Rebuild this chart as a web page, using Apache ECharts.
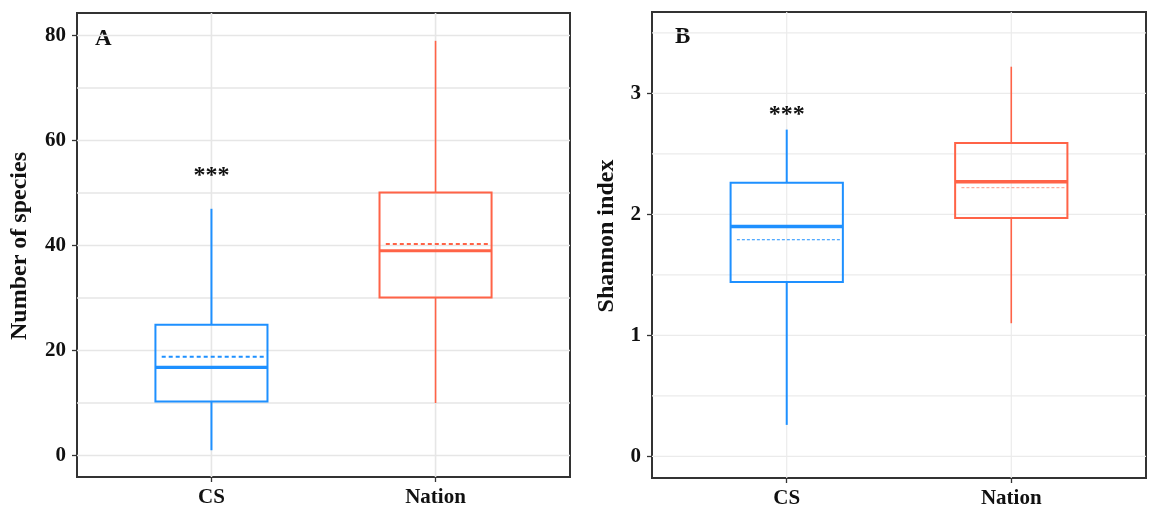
<!DOCTYPE html>
<html>
<head>
<meta charset="utf-8">
<script src="https://cdn.jsdelivr.net/npm/echarts@6/dist/echarts.min.js"></script>
<style>
html,body{margin:0;padding:0;background:#fff;}
#chart{width:1151px;height:508px;}
</style>
</head>
<body>
<div id="chart"></div>
<script>
// ---------- data ----------
const categories = ['CS', 'Nation'];
const boxColors = ['#1E90FF', '#FF6347'];

// Panel A: Number of species
const speciesLow    = [1.0, 10.0];
const speciesQ1     = [10.3, 30.1];
const speciesMedian = [16.8, 39.0];
const speciesQ3     = [24.9, 50.1];
const speciesHigh   = [47.0, 79.0];
const speciesMean   = [18.8, 40.3];
const speciesTicks  = [0, 20, 40, 60, 80];
const speciesMinor  = [10, 30, 50, 70];
const speciesSig    = ['***', ''];
const speciesSigY   = [53.3, null];

// Panel B: Shannon index
const shannonLow    = [0.26, 1.10];
const shannonQ1     = [1.44, 1.97];
const shannonMedian = [1.90, 2.27];
const shannonQ3     = [2.26, 2.59];
const shannonHigh   = [2.70, 3.22];
const shannonMean   = [1.79, 2.22];
const shannonTicks  = [0, 1, 2, 3];
const shannonMinor  = [0.5, 1.5, 2.5, 3.5];
const shannonSig    = ['***', ''];
const shannonSigY   = [2.82, null];

const catPos = categories.map((c, i) => i + 1);

// ---------- helpers ----------
const FONT = '"Liberation Serif", "Times New Roman", serif';
const X_MIN = 0.4, X_MAX = 2.6;

function buildBoxData(low, q1, med, q3, high, mean) {
  return categories.map((c, i) => [catPos[i], low[i], q1[i], med[i], q3[i], high[i], mean[i]]);
}

function boxRenderer(st) {
  return function (params, api) {
    const i = params.dataIndex;
    const x = api.value(0);
    const lo = api.value(1), q1 = api.value(2), med = api.value(3),
          q3 = api.value(4), hi = api.value(5), mean = api.value(6);
    const col = boxColors[i];
    const half = 0.25;
    const tl = api.coord([x - half, q3]);
    const br = api.coord([x + half, q1]);
    const cHi = api.coord([x, hi]), cQ3 = api.coord([x, q3]);
    const cQ1 = api.coord([x, q1]), cLo = api.coord([x, lo]);
    const mL = api.coord([x - half, med]), mR = api.coord([x + half, med]);
    const aL = api.coord([x - half + 0.028, mean]), aR = api.coord([x + half - 0.01, mean]);
    const wW = st.whiskerWidth[i];
    return {
      type: 'group',
      children: [
        {type: 'line', shape: {x1: cHi[0], y1: cHi[1], x2: cQ3[0], y2: cQ3[1]},
         style: {stroke: col, lineWidth: wW}},
        {type: 'line', shape: {x1: cQ1[0], y1: cQ1[1], x2: cLo[0], y2: cLo[1]},
         style: {stroke: col, lineWidth: wW}},
        {type: 'rect', shape: {x: tl[0], y: tl[1], width: br[0] - tl[0], height: br[1] - tl[1]},
         style: {fill: 'none', stroke: col, lineWidth: st.boxWidth}},
        {type: 'line', shape: {x1: mL[0], y1: mL[1], x2: mR[0], y2: mR[1]},
         style: {stroke: col, lineWidth: st.medianWidth}},
        {type: 'line', shape: {x1: aL[0], y1: aL[1], x2: aR[0], y2: aR[1]},
         style: {stroke: st.meanColor ? st.meanColor[i] : col, lineWidth: st.meanWidth, lineDash: st.meanDash}}
      ]
    };
  };
}

function hGridRenderer(color, width) {
  return function (params, api) {
    const v = api.value(0);
    const p1 = api.coord([X_MIN, v]);
    const p2 = api.coord([X_MAX, v]);
    return {type: 'line', shape: {x1: p1[0], y1: p1[1], x2: p2[0], y2: p2[1]},
            style: {stroke: color, lineWidth: width}, silent: true};
  };
}
function vGridRenderer(color, width, yMin, yMax) {
  return function (params, api) {
    const v = api.value(0);
    const p1 = api.coord([v, yMin]);
    const p2 = api.coord([v, yMax]);
    return {type: 'line', shape: {x1: p1[0], y1: p1[1], x2: p2[0], y2: p2[1]},
            style: {stroke: color, lineWidth: width}, silent: true};
  };
}
function sigRenderer(labels) {
  return function (params, api) {
    const i = params.dataIndex;
    const p = api.coord([api.value(0), api.value(1)]);
    return {type: 'text', x: p[0], y: p[1],
            style: {text: labels[i], fill: '#111', font: 'bold 24px ' + FONT,
                    align: 'center', verticalAlign: 'middle'}};
  };
}

function xAxisCfg(gridIndex) {
  return {
    type: 'value', gridIndex, min: X_MIN, max: X_MAX,
    axisLine: {show: true, onZero: false, lineStyle: {color: '#333', width: 2}},
    splitLine: {show: false},
    axisTick: {show: true, customValues: catPos, length: 5, lineStyle: {color: '#333', width: 1.3}},
    axisLabel: {show: true, customValues: catPos, margin: 10,
      formatter: v => categories[Math.round(v) - 1] || '',
      color: '#111', fontFamily: FONT, fontWeight: 'bold', fontSize: 21}
  };
}
function yAxisCfg(gridIndex, min, max, ticks) {
  return {
    type: 'value', gridIndex, min, max,
    axisLine: {show: true, onZero: false, lineStyle: {color: '#333', width: 2}},
    splitLine: {show: false},
    axisTick: {show: true, customValues: ticks, length: 5, lineStyle: {color: '#333', width: 1.3}},
    axisLabel: {show: true, customValues: ticks, margin: 11,
      color: '#111', fontFamily: FONT, fontWeight: 'bold', fontSize: 21}
  };
}

const A_MIN = -4.1, A_MAX = 84.3;
const B_MIN = -0.179, B_MAX = 3.672;

const chart = echarts.init(document.getElementById('chart'), null, {renderer: 'canvas'});
chart.setOption({
  backgroundColor: '#fff',
  animation: false,
  grid: [
    {left: 77, top: 13, width: 493, height: 464, show: true, borderColor: '#333', borderWidth: 2,
     backgroundColor: 'transparent', outerBoundsMode: 'none', containLabel: false},
    {left: 652, top: 12, width: 494, height: 466, show: true, borderColor: '#333', borderWidth: 2,
     backgroundColor: 'transparent', outerBoundsMode: 'none', containLabel: false}
  ],
  xAxis: [xAxisCfg(0), xAxisCfg(1)],
  yAxis: [yAxisCfg(0, A_MIN, A_MAX, speciesTicks), yAxisCfg(1, B_MIN, B_MAX, shannonTicks)],
  graphic: [
    {type: 'text', left: 95, top: 28, style: {text: 'A', font: 'bold 23px ' + FONT, fill: '#111'}},
    {type: 'text', left: 675, top: 26, style: {text: 'B', font: 'bold 23px ' + FONT, fill: '#111'}},
    {type: 'text', x: 20, y: 246, rotation: Math.PI / 2,
     style: {text: 'Number of species', font: 'bold 24px ' + FONT, fill: '#111', align: 'center', verticalAlign: 'middle'}},
    {type: 'text', x: 607, y: 236, rotation: Math.PI / 2,
     style: {text: 'Shannon index', font: 'bold 24px ' + FONT, fill: '#111', align: 'center', verticalAlign: 'middle'}}
  ],
  series: [
    // grid lines panel A
    {type: 'custom', xAxisIndex: 0, yAxisIndex: 0, z: 1, silent: true,
     data: speciesTicks.concat(speciesMinor).map(v => [v]), encode: {y: 0},
     renderItem: hGridRenderer('#E6E6E6', 1.6)},
    {type: 'custom', xAxisIndex: 0, yAxisIndex: 0, z: 1, silent: true,
     data: catPos.map(v => [v]), encode: {x: 0},
     renderItem: vGridRenderer('#E6E6E6', 1.6, A_MIN, A_MAX)},
    // grid lines panel B
    {type: 'custom', xAxisIndex: 1, yAxisIndex: 1, z: 1, silent: true,
     data: shannonTicks.concat(shannonMinor).map(v => [v]), encode: {y: 0},
     renderItem: hGridRenderer('#EBEBEB', 1.2)},
    {type: 'custom', xAxisIndex: 1, yAxisIndex: 1, z: 1, silent: true,
     data: catPos.map(v => [v]), encode: {x: 0},
     renderItem: vGridRenderer('#EBEBEB', 1.2, B_MIN, B_MAX)},
    // boxes panel A
    {type: 'custom', xAxisIndex: 0, yAxisIndex: 0, z: 5,
     data: buildBoxData(speciesLow, speciesQ1, speciesMedian, speciesQ3, speciesHigh, speciesMean),
     encode: {x: 0, y: [1, 2, 3, 4, 5, 6]},
     renderItem: boxRenderer({boxWidth: 2, medianWidth: 3.2, meanWidth: 2, meanDash: [4, 3],
                              whiskerWidth: [2, 1.6]})},
    // boxes panel B
    {type: 'custom', xAxisIndex: 1, yAxisIndex: 1, z: 5,
     data: buildBoxData(shannonLow, shannonQ1, shannonMedian, shannonQ3, shannonHigh, shannonMean),
     encode: {x: 0, y: [1, 2, 3, 4, 5, 6]},
     renderItem: boxRenderer({boxWidth: 2, medianWidth: 3.5, meanWidth: 1, meanDash: [3, 2],
                              meanColor: ['#1E90FF', 'rgba(255,99,71,0.65)'],
                              whiskerWidth: [2, 1.6]})},
    // significance
    {type: 'custom', xAxisIndex: 0, yAxisIndex: 0, z: 6,
     data: catPos.map((x, i) => [x, speciesSigY[i]]).filter((d, i) => speciesSig[i]),
     encode: {x: 0, y: 1}, renderItem: sigRenderer(speciesSig.filter(s => s))},
    {type: 'custom', xAxisIndex: 1, yAxisIndex: 1, z: 6,
     data: catPos.map((x, i) => [x, shannonSigY[i]]).filter((d, i) => shannonSig[i]),
     encode: {x: 0, y: 1}, renderItem: sigRenderer(shannonSig.filter(s => s))}
  ]
});
</script>
</body>
</html>
